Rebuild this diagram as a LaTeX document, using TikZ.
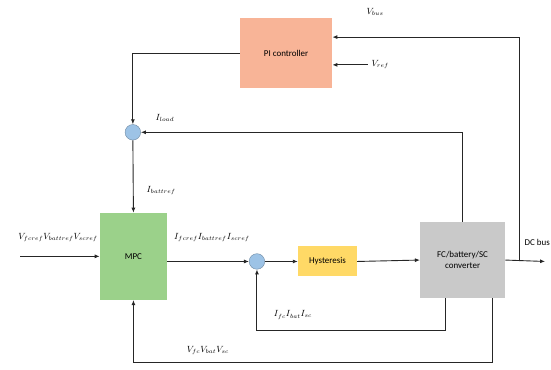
\documentclass[tikz,border=0pt]{standalone}
\usepackage{fontspec}
\setmainfont{Carlito}
\usetikzlibrary{arrows.meta}

\definecolor{piorange}{HTML}{F8B497}
\definecolor{mpcgreen}{HTML}{9BD18A}
\definecolor{hystyellow}{HTML}{FFD966}
\definecolor{convgrey}{HTML}{C9C9C9}
\definecolor{sumblue}{HTML}{9DC3E6}

\begin{document}
\begin{tikzpicture}[
    blockbox/.style={draw=none, align=center, font=\small},
    sumnode/.style={circle, draw=sumblue!70!black, fill=sumblue, minimum size=0.55cm, inner sep=0pt},
    conn/.style={draw=black!85, line width=0.9pt, -{Latex[length=5pt,width=4pt]}},
    sig/.style={font=\small}
  ]

  \useasboundingbox (0cm,0cm) rectangle (19.45cm,13.03cm);  %Rahmen

  %Bloecke
  \node[blockbox, fill=piorange, minimum width=3.25cm, minimum height=2.47cm] (pi) at (10.10cm,11.15cm) {PI controller};
  \node[blockbox, fill=mpcgreen, minimum width=2.37cm, minimum height=3.07cm] (mpc) at (4.71cm,3.98cm) {MPC};
  \node[blockbox, fill=hystyellow, minimum width=2.08cm, minimum height=1.06cm] (hyst) at (11.56cm,3.80cm) {Hysteresis};
  \node[blockbox, fill=convgrey, minimum width=3.0cm, minimum height=2.68cm] (conv) at (16.33cm,3.85cm) {FC/battery/SC\\converter};

  %Summierstellen
  \node[sumnode] (sum1) at (4.69cm,8.36cm) {};
  \node[sumnode] (sum2) at (9.07cm,3.80cm) {};

  %freie Enden
  \coordinate (vin) at (0.71cm,3.98cm);
  \coordinate (vref) at (12.99cm,10.74cm);
  \coordinate (vbus) at (18.32cm,3.80cm);
  \coordinate (dcbus) at (19.24cm,3.80cm);

  %Verbindungen
  \draw[conn] (pi.west) -| (sum1.north);
  \draw[conn] (sum1.south) -- (mpc.north);
  \draw[conn] (conv.north) |- (sum1.east);  %Laststrom
  \draw[conn] (vin) -- (mpc.west);
  \draw[conn] (mpc.east |- sum2) -- (sum2.west);
  \draw[conn] (sum2.east) -- (hyst.west);
  \draw[conn] (hyst.east) -- (conv.west);
  \draw[conn] (conv.east) -- (dcbus);  %DC-Bus
  \draw[conn] (vbus) |- ([yshift=0.57cm]pi.east);  %Busspannung
  \draw[conn] (vref) -- (vref -| pi.east);
  \draw[conn] ([xshift=-0.62cm]conv.south) -- ++(0,-1.13cm) -| (sum2.south);  %Stroeme
  \draw[conn] ([xshift=1.04cm]conv.south) -- ++(0,-2.26cm) -| (mpc.south);  %Spannungen

  %Beschriftungen
  \node[sig] (lvbus) at (13.24cm,12.61cm) {$V_{bus}$};
  \node[sig, right] (lvref) at (vref) {$V_{ref}$};
  \node[sig] (liload) at (5.82cm,8.86cm) {$I_{load}$};
  \node[sig] (libatt) at (5.69cm,6.32cm) {$I_{battref}$};
  \node[sig] (lvin) at (2.05cm,4.66cm) {$V_{fcref}V_{battref}V_{scref}$};
  \node[sig] (liref) at (7.48cm,4.66cm) {$I_{fcref}I_{battref}I_{scref}$};
  \node[sig] (limes) at (10.34cm,1.91cm) {$I_{fc}I_{bat}I_{sc}$};
  \node[sig] (lvmes) at (7.34cm,0.67cm) {$V_{fc}V_{bat}V_{sc}$};
  \node[sig, left, inner xsep=1pt] (ldcbus) at (19.45cm,4.49cm) {DC bus};
\end{tikzpicture}
\end{document}
